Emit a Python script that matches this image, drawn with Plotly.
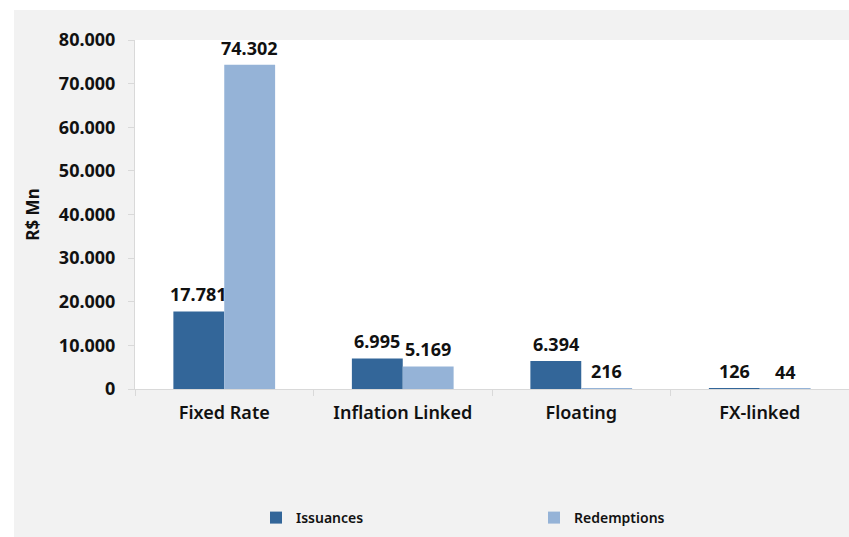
import plotly.graph_objects as go

categories = ["Fixed Rate", "Inflation Linked", "Floating", "FX-linked"]
issuances = [17781, 6995, 6394, 126]
redemptions = [74302, 5169, 216, 44]
series_names = ["Issuances", "Redemptions"]
colors = ["#336699", "#95b3d7"]
y_ticks = [0, 10000, 20000, 30000, 40000, 50000, 60000, 70000, 80000]

W, H = 849, 537
ML, MR, MT, MB = 135, 0, 40, 148
PW = W - ML - MR
PH = H - MT - MB

def px_to_paper_x(px):
    return (px - ML) / PW

def px_to_paper_y(py):
    return (H - MB - py) / PH

FONT = "Noto Sans"

fig = go.Figure()
for name, vals, col in zip(series_names, [issuances, redemptions], colors):
    fig.add_trace(go.Bar(
        x=categories, y=vals, name=name, marker=dict(color=col, line=dict(width=0)),
    ))

# data labels
for i, vals in enumerate([issuances, redemptions]):
    for c, v in zip(categories, vals):
        fig.add_annotation(
            x=c, y=v, xref="x", yref="y", text=f"{v:,}".replace(",", "."),
            showarrow=False, xshift=(-25.5 if i == 0 else 25.5), yshift=17,
            font=dict(family=FONT, size=18, color="#111111", weight="bold"),
        )

fig.update_layout(
    width=W, height=H,
    margin=dict(l=ML, r=MR, t=MT, b=MB, pad=0),
    paper_bgcolor="#f2f2f2", plot_bgcolor="white",
    separators=",.",
    barmode="group", bargap=0.43, bargroupgap=0,
    font=dict(family=FONT, color="#111111"),
    showlegend=True,
    legend=dict(
        orientation="h", x=px_to_paper_x(256), xanchor="left",
        y=px_to_paper_y(518), yanchor="middle",
        bgcolor="rgba(0,0,0,0)", entrywidth=233, entrywidthmode="pixels",
        font=dict(family=FONT, size=14, weight=600),
    ),
    xaxis=dict(
        showline=True, linecolor="#d9d9d9", linewidth=1,
        ticks="outside", tickson="boundaries", ticklen=6, tickcolor="#d9d9d9",
        tickfont=dict(family=FONT, size=18, weight=600),
        ticklabelstandoff=7,
    ),
    yaxis=dict(
        range=[0, 80000], tickvals=y_ticks, tickformat=",d",
        showline=True, linecolor="#d9d9d9", linewidth=1, showgrid=False, zeroline=False,
        ticks="outside", ticklen=6, tickcolor="#d9d9d9",
        tickfont=dict(family=FONT, size=18, weight="bold"),
        ticklabelstandoff=9,
        title=dict(text="R$ Mn", font=dict(family=FONT, size=17, weight="bold"), standoff=14),
    ),
    shapes=[
        dict(type="rect", xref="paper", yref="paper", layer="below",
             x0=px_to_paper_x(0), x1=px_to_paper_x(14), y0=px_to_paper_y(H), y1=px_to_paper_y(0),
             fillcolor="white", line=dict(width=0)),
        dict(type="rect", xref="paper", yref="paper", layer="below",
             x0=px_to_paper_x(0), x1=px_to_paper_x(W), y0=px_to_paper_y(10), y1=px_to_paper_y(0),
             fillcolor="white", line=dict(width=0)),
    ],
)

fig.write_html(
    "out.html",
    config={"displayModeBar": False},
    post_script="document.body.style.margin='0';document.body.style.overflow='hidden';",
)
